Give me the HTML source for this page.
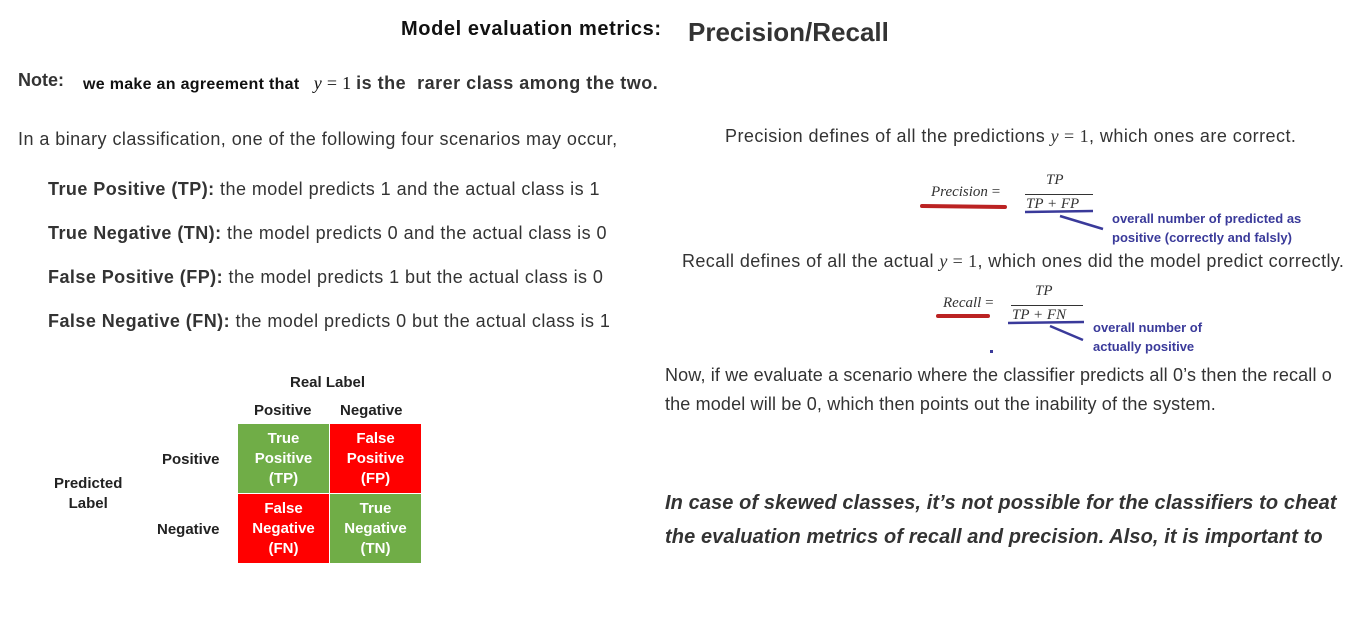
<!DOCTYPE html>
<html><head><meta charset="utf-8">
<style>
body{margin:0;width:1349px;height:620px;background:#fff;position:relative;overflow:hidden;font-family:"Liberation Sans",sans-serif;color:#333}
.t{position:absolute;white-space:nowrap;line-height:24px}
.s{font-size:18px;letter-spacing:0.45px}
.m{font-family:"Liberation Serif",serif;font-style:italic}
.b{font-weight:bold}
.cell{position:absolute;width:91px;height:69px;color:#fff;font-weight:bold;font-size:15px;line-height:20px;text-align:center;display:flex;align-items:center;justify-content:center}
.g{background:#70ad47}.r{background:#f00}
.lab{position:absolute;font-size:15px;font-weight:bold;color:#222;white-space:nowrap;line-height:20px;text-align:center}
.ann{position:absolute;color:#3a3a9a;font-weight:bold;font-size:13px;line-height:19px;white-space:nowrap}
</style></head><body>
<div class="t b" style="left:401px;top:17px;font-size:20px;letter-spacing:0.6px;color:#111">Model evaluation metrics:</div>
<div class="t b" style="left:688px;top:18px;font-size:26px;line-height:28px;color:#333">Precision/Recall</div>

<div class="t b" style="left:18px;top:68px;font-size:18px">Note:</div>
<div class="t b" style="left:83px;top:71px;font-size:16px;letter-spacing:0.3px;color:#111">we make an agreement that&nbsp;&nbsp; <span class="m" style="font-weight:normal;font-size:18px">y</span><span style="font-weight:normal;font-family:'Liberation Serif',serif;font-size:18px"> = 1</span> <span style="font-size:18px;letter-spacing:0.5px;color:#333">is the&nbsp; rarer class among the two.</span></div>

<div class="t s" style="left:18px;top:127px">In a binary classification, one of the following four scenarios may occur,</div>
<div class="t s" style="left:48px;top:177px"><b>True Positive (TP):</b> the model predicts 1 and the actual class is 1</div>
<div class="t s" style="left:48px;top:221px"><b>True Negative (TN):</b> the model predicts 0 and the actual class is 0</div>
<div class="t s" style="left:48px;top:265px"><b>False Positive (FP):</b> the model predicts 1 but the actual class is 0</div>
<div class="t s" style="left:48px;top:309px"><b>False Negative (FN):</b> the model predicts 0 but the actual class is 1</div>

<div class="lab" style="left:290px;top:373px">Real Label</div>
<div class="lab" style="left:254px;top:401px">Positive</div>
<div class="lab" style="left:340px;top:401px">Negative</div>
<div class="lab" style="left:162px;top:450px">Positive</div>
<div class="lab" style="left:157px;top:520px">Negative</div>
<div class="lab" style="left:54px;top:474px">Predicted<br>Label</div>
<div class="cell g" style="left:238px;top:424px">True<br>Positive<br>(TP)</div>
<div class="cell r" style="left:330px;top:424px">False<br>Positive<br>(FP)</div>
<div class="cell r" style="left:238px;top:494px">False<br>Negative<br>(FN)</div>
<div class="cell g" style="left:330px;top:494px">True<br>Negative<br>(TN)</div>

<div class="t s" style="left:725px;top:124px">Precision defines of all the predictions <span class="m">y</span><span style="font-family:'Liberation Serif',serif"> = 1</span>, which ones are correct.</div>
<div class="t s" style="left:682px;top:249px;letter-spacing:0.4px">Recall defines of all the actual <span class="m">y</span><span style="font-family:'Liberation Serif',serif"> = 1</span>, which ones did the model predict correctly.</div>

<div class="t m" style="left:931px;top:180px;font-size:15px">Precision <span style="font-style:normal">=</span></div>
<div class="t m" style="left:1046px;top:168px;font-size:15px">TP</div>
<div style="position:absolute;left:1025px;top:194px;width:68px;height:1px;background:#333"></div>
<div class="t m" style="left:1026px;top:192px;font-size:15px">TP + FP</div>
<div class="t m" style="left:943px;top:291px;font-size:15px">Recall <span style="font-style:normal">=</span></div>
<div class="t m" style="left:1035px;top:279px;font-size:15px">TP</div>
<div style="position:absolute;left:1011px;top:305px;width:72px;height:1px;background:#333"></div>
<div class="t m" style="left:1012px;top:303px;font-size:15px">TP + FN</div>

<svg style="position:absolute;left:0;top:0" width="1349" height="620">
<path d="M922 206 L1005 207" stroke="#b22" stroke-width="4" stroke-linecap="round"/>
<path d="M1025 212 L1093 211 M1060 216 L1103 229" stroke="#3a3a9a" stroke-width="2.5"/>
<path d="M938 316 L988 316" stroke="#b22" stroke-width="4" stroke-linecap="round"/>
<path d="M1008 323 L1084 322 M1050 326 L1083 340" stroke="#3a3a9a" stroke-width="2.5"/>
<rect x="990" y="350" width="3" height="3" fill="#3a3a9a"/>
</svg>
<div class="ann" style="left:1112px;top:209px">overall number of predicted as<br>positive (correctly and falsly)</div>
<div class="ann" style="left:1093px;top:318px">overall number of<br>actually positive</div>

<div class="t" style="left:665px;top:361px;font-size:18px;letter-spacing:0.15px;line-height:29px">Now, if we evaluate a scenario where the classifier predicts all 0’s then the recall o<br>the model will be 0, which then points out the inability of the system.</div>
<div class="t b" style="left:665px;top:486px;font-size:20px;letter-spacing:0.1px;line-height:34px;font-style:italic">In case of skewed classes, it’s not possible for the classifiers to cheat<br>the evaluation metrics of recall and precision. Also, it is important to</div>
</body></html>
